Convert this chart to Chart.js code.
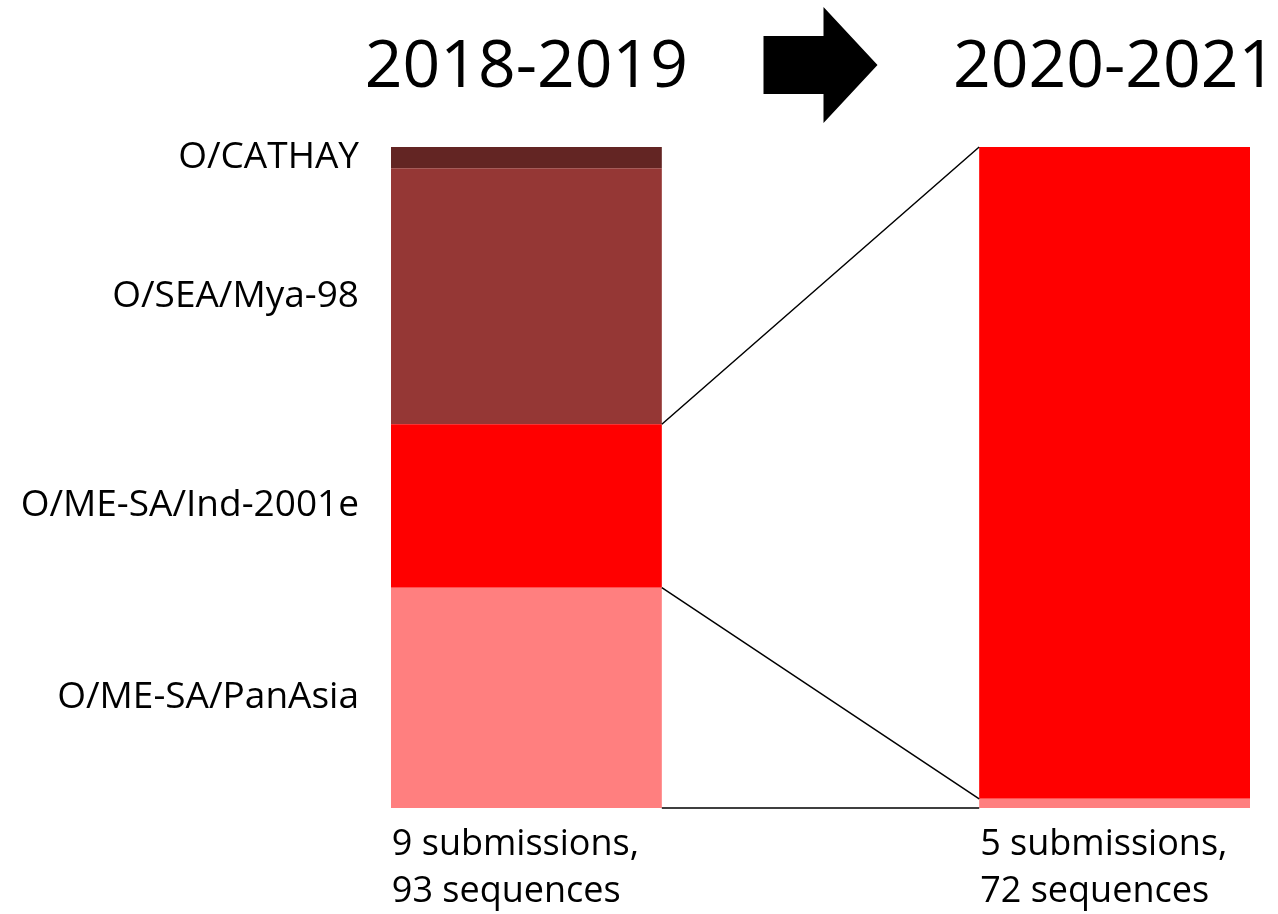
<!DOCTYPE html>
<html>
<head>
<meta charset="utf-8">
<script src="https://cdn.jsdelivr.net/npm/chart.js@4"></script>
<style>
  body { margin: 0; background: #fff; }
  #wrap { width: 1278px; height: 914px; }
</style>
</head>
<body>
<div id="wrap"><canvas id="chart"></canvas></div>
<script>
// periodos e contagens de sequencias por linhagem
const periods = ['2018-2019', '2020-2021'];
const periodPos = [0, 1];
const panAsia = [31, 1];
const ind2001e = [23, 71];
const seaMya98 = [36, 0];
const cathay = [3, 0];
const submissions = [9, 5];
const sequences = [93, 72];

const lineages = ['O/ME-SA/PanAsia', 'O/ME-SA/Ind-2001e', 'O/SEA/Mya-98', 'O/CATHAY'];
const colors = ['#FF7F7F', '#FF0000', '#953735', '#632523'];

const FONT = "'Open Sans', sans-serif";

// percentual de cada periodo
const pct = (arr) => arr.map((v, i) => ({ x: periodPos[i], y: v / sequences[i] * 100 }));

const decor = {
  id: 'decor',
  afterDatasetsDraw(chart) {
    const ctx = chart.ctx;
    const area = chart.chartArea;
    const metas = [0, 1, 2, 3].map(i => chart.getDatasetMeta(i));
    const left = (el) => el.x - el.width / 2;
    const right = (el) => el.x + el.width / 2;

    ctx.save();

    // linhas ligando o Ind-2001e
    const indL = metas[1].data[0], indR = metas[1].data[1];
    const baseL = metas[0].data[0], baseR = metas[0].data[1];
    ctx.strokeStyle = '#000';
    ctx.lineWidth = 1.5;
    ctx.beginPath();
    ctx.moveTo(right(indL), indL.y); ctx.lineTo(left(indR), indR.y);
    ctx.moveTo(right(indL), indL.base); ctx.lineTo(left(indR), indR.base);
    ctx.moveTo(right(baseL), baseL.base); ctx.lineTo(left(baseR), baseR.base);
    ctx.stroke();

    // rotulos das linhagens
    ctx.fillStyle = '#000';
    ctx.font = `37px ${FONT}`;
    ctx.textAlign = 'right';
    ctx.textBaseline = 'middle';
    metas.forEach((m, i) => {
      const el = m.data[0];
      ctx.fillText(lineages[i], area.left - 32, (el.y + el.base) / 2);
    });

    // textos embaixo das barras
    ctx.font = `36px ${FONT}`;
    ctx.textAlign = 'left';
    ctx.textBaseline = 'alphabetic';
    metas[0].data.forEach((el, i) => {
      ctx.fillText(submissions[i] + ' submissions,', left(el) + 1, area.bottom + 47);
      ctx.fillText(sequences[i] + ' sequences', left(el) + 1, area.bottom + 94);
    });

    // titulos
    ctx.font = `66px ${FONT}`;
    ctx.textAlign = 'center';
    metas[0].data.forEach((el, i) => {
      ctx.fillText(periods[i], el.x, 87);
    });

    // seta
    const cx = (metas[0].data[0].x + metas[0].data[1].x) / 2;
    ctx.beginPath();
    ctx.moveTo(cx - 57, 36);
    ctx.lineTo(cx + 3, 36);
    ctx.lineTo(cx + 3, 7);
    ctx.lineTo(cx + 57, 65);
    ctx.lineTo(cx + 3, 123);
    ctx.lineTo(cx + 3, 94);
    ctx.lineTo(cx - 57, 94);
    ctx.closePath();
    ctx.fill();

    ctx.restore();
  }
};

new Chart(document.getElementById('chart'), {
  type: 'bar',
  data: {
    datasets: [
      { label: lineages[0], data: pct(panAsia), backgroundColor: colors[0] },
      { label: lineages[1], data: pct(ind2001e), backgroundColor: colors[1] },
      { label: lineages[2], data: pct(seaMya98), backgroundColor: colors[2] },
      { label: lineages[3], data: pct(cathay), backgroundColor: colors[3] }
    ]
  },
  options: {
    responsive: true,
    maintainAspectRatio: false,
    animation: false,
    layout: { padding: { left: 391, right: 28, top: 147, bottom: 106 } },
    datasets: { bar: { barThickness: 271, borderWidth: 0, inflateAmount: 0 } },
    plugins: { legend: { display: false }, tooltip: { enabled: false } },
    scales: {
      x: { type: 'linear', min: -0.23, max: 1.23, offset: false, stacked: true, display: false },
      y: { min: 0, max: 100, stacked: true, display: false }
    }
  },
  plugins: [decor]
});
</script>
</body>
</html>
